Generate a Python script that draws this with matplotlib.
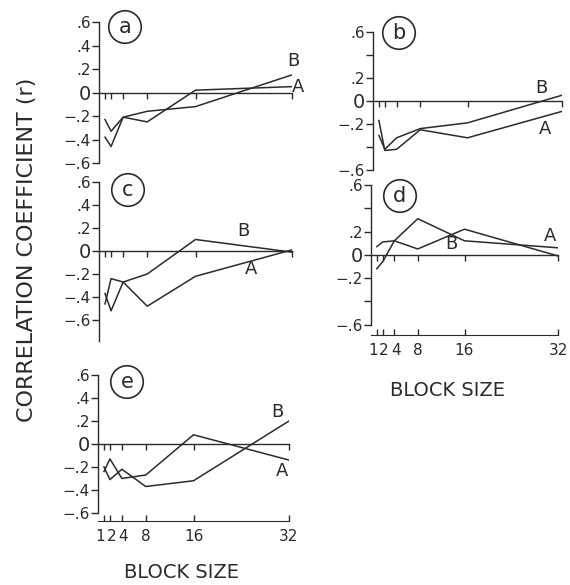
import matplotlib
matplotlib.use("Agg")
import matplotlib.pyplot as plt
from matplotlib.transforms import ScaledTranslation

# block sizes on the x axis
block_size = [1, 2, 4, 8, 16, 32]
block_labels = ["1", "2", "4", "8", "16", "32"]

# correlation coefficient r, series A and B for each panel
a_A = [-0.23, -0.33, -0.21, -0.25, 0.02, 0.05]
a_B = [-0.38, -0.46, -0.21, -0.16, -0.12, 0.15]
b_A = [-0.17, -0.43, -0.42, -0.25, -0.32, -0.09]
b_B = [-0.30, -0.42, -0.32, -0.24, -0.19, 0.05]
c_A = [-0.37, -0.52, -0.27, -0.48, -0.22, 0.01]
c_B = [-0.46, -0.24, -0.27, -0.20, 0.10, -0.01]
d_A = [-0.12, -0.06, 0.12, 0.31, 0.12, 0.06]
d_B = [0.07, 0.11, 0.12, 0.05, 0.22, -0.01]
e_A = [-0.24, -0.13, -0.30, -0.27, 0.08, -0.14]
e_B = [-0.20, -0.31, -0.22, -0.37, -0.32, 0.20]

y_ticks = [0.6, 0.4, 0.2, 0.0, -0.2, -0.4, -0.6]
y_labels_full = [".6", ".4", ".2", "0", "\u2212.2", "\u2212.4", "\u2212.6"]
y_labels_sparse = [".6", "", ".2", "0", "\u2212.2", "", "\u2212.6"]

W, H = 570, 585
INK = "#2b2b2b"

fig = plt.figure(figsize=(W / 100, H / 100), dpi=100)


def px_axes(left, top, right, bottom):
    return fig.add_axes([left / W, 1 - bottom / H, (right - left) / W, (bottom - top) / H])


def fig_text(x, y, s, **kw):
    fig.text(x / W, 1 - y / H, s, color=INK, ha="center", va="center", **kw)


def nudge(label, dx_px, ha):
    label.set_horizontalalignment(ha)
    label.set_transform(label.get_transform()
                        + ScaledTranslation(dx_px / 100, 0, fig.dpi_scale_trans))


def panel(box, ylim, series_a, series_b, letter, letter_xy, a_xy, b_xy,
          labels, spine_low=-0.6, block_axis=False):
    ax = px_axes(*box)
    ax.set_xlim(0, 32)
    ax.set_ylim(*ylim)
    ax.patch.set_alpha(0)
    for s in ("top", "right"):
        ax.spines[s].set_visible(False)
    ax.spines["left"].set_bounds(spine_low, 0.6)
    ax.spines["bottom"].set_position(("data", 0))
    ax.spines["bottom"].set_bounds(0, 32)
    for s in ("left", "bottom"):
        ax.spines[s].set_color(INK)
        ax.spines[s].set_linewidth(1.0)

    ax.plot(block_size, series_a, color=INK, lw=1.1)
    ax.plot(block_size, series_b, color=INK, lw=1.1)

    ax.set_xticks(block_size)
    ax.tick_params(axis="x", direction="out", length=4, width=1.0,
                   color=INK, labelbottom=False)
    ax.set_yticks(y_ticks)
    ax.set_yticklabels(labels)
    ax.tick_params(axis="y", direction="out", length=5, width=1.0,
                   color=INK, labelsize=11, labelcolor=INK, pad=1)
    for t in ax.get_yticklabels():
        if t.get_text() == "0":
            t.set_fontsize(14)

    if block_axis:
        sec = ax.secondary_xaxis(0)
        sec.set_xticks(block_size, labels=block_labels)
        sec.spines["bottom"].set_bounds(0, 32)
        sec.spines["bottom"].set_color(INK)
        sec.tick_params(direction="in", length=4, width=1.0, color=INK,
                        labelsize=11, labelcolor=INK, pad=6)
        # 1, 2 and 4 sit close together: spread them like "12 4"
        labs = sec.get_xticklabels()
        nudge(labs[0], 1.0, "right")
        nudge(labs[1], -3.5, "left")
        nudge(labs[2], 1.5, "center")

    fig_text(*letter_xy, letter, fontsize=15,
             bbox=dict(boxstyle="circle,pad=0.3", fc="none", ec=INK, lw=1.2))
    fig_text(*a_xy, "A", fontsize=13)
    fig_text(*b_xy, "B", fontsize=13)
    return ax


panel((99, 22, 292, 163), (-0.6, 0.6), a_A, a_B, "a", (125, 27),
      (298, 87), (293, 61), y_labels_full)
panel((373, 32, 562, 170), (-0.6, 0.6), b_A, b_B, "b", (399, 33),
      (545, 129), (541, 88), y_labels_sparse)
panel((99, 182, 292, 343), (-0.8, 0.6), c_A, c_B, "c", (128, 190),
      (251, 269), (243, 231), y_labels_full, spine_low=-0.78)
panel((371, 185, 558, 335), (-0.69, 0.6), d_A, d_B, "d", (400, 196),
      (550, 236), (451, 244), y_labels_sparse, block_axis=True)
panel((98, 375, 289, 521), (-0.67, 0.6), e_A, e_B, "e", (127, 382),
      (282, 471), (277, 412), y_labels_full, block_axis=True)

fig_text(27, 250, "CORRELATION COEFFICIENT (r)", fontsize=16, rotation=90)
fig_text(182, 572, "BLOCK SIZE", fontsize=14)
fig_text(448, 390, "BLOCK SIZE", fontsize=14)

fig.savefig("out.png", dpi=100)
